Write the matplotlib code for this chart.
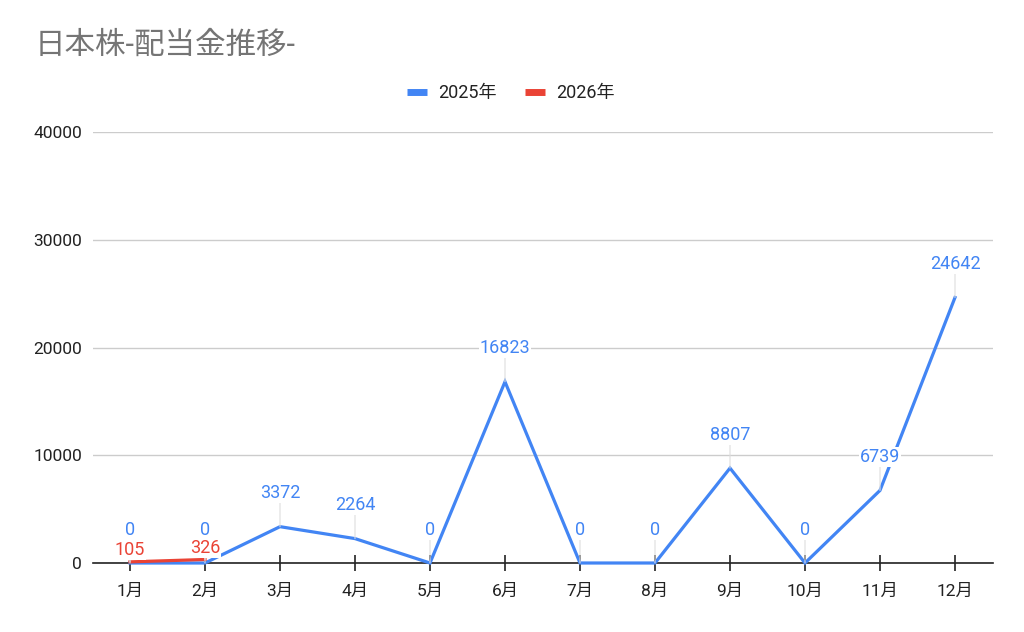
import matplotlib
matplotlib.use("Agg")
import matplotlib.pyplot as plt
from matplotlib.lines import Line2D

plt.rcParams['font.family'] = ['Roboto', 'Noto Sans CJK JP', 'DejaVu Sans']

months = ['1月', '2月', '3月', '4月', '5月', '6月', '7月', '8月', '9月', '10月', '11月', '12月']
s2025 = [0, 0, 3372, 2264, 0, 16823, 0, 0, 8807, 0, 6739, 24642]
s2026 = [105, 326]
yticks = [0, 10000, 20000, 30000, 40000]
title = '日本株-配当金推移-'
names = ['2025年', '2026年']

BLUE = '#4285F4'
RED = '#EA4335'

fig = plt.figure(figsize=(10.24, 6.32), dpi=100)
ax = fig.add_axes([92.5 / 1024, 1 - 563 / 632, 900 / 1024, 431 / 632])

x25 = list(range(1, len(s2025) + 1))
x26 = list(range(1, len(s2026) + 1))
ax.plot(x25, s2025, color=BLUE, lw=2.3, solid_joinstyle='miter', zorder=3, clip_on=False)
ax.plot(x26, s2026, color=RED, lw=2.3, zorder=4, clip_on=False)

ax.set_xlim(0.5, len(months) + 0.5)
ax.set_ylim(0, 40000)
ax.set_xticks(x25)
ax.set_xticklabels(months)
ax.set_yticks(yticks)
ax.set_yticklabels([str(v) for v in yticks])

for s in ['top', 'right', 'left']:
    ax.spines[s].set_visible(False)
ax.spines['bottom'].set_color('#222222')
ax.spines['bottom'].set_linewidth(1.2)
ax.spines['bottom'].set_zorder(2)

ax.grid(axis='y', color='#cccccc', lw=1.0, zorder=0)
ax.set_axisbelow(True)
ax.tick_params(axis='y', length=0, pad=7.5, labelsize=12.5, labelcolor='#222222')
ax.tick_params(axis='x', direction='inout', length=12, width=1.2, color='#222222',
               pad=9, labelsize=12.5, labelcolor='#222222')


def label(x, y, txt, color, off):
    ax.annotate(txt, xy=(x, y), xytext=(0, off), textcoords='offset points',
                ha='center', va='center', fontsize=13, color=color, zorder=6,
                bbox=dict(boxstyle='square,pad=0.05', fc='white', ec='none'),
                arrowprops=dict(arrowstyle='-', color='#dddddd', lw=0.8,
                                shrinkA=0, shrinkB=0), annotation_clip=False)


for x, v in zip(x25, s2025):
    label(x, v, str(v), BLUE, 24)
for x, v in zip(x26, s2026):
    label(x, v, str(v), RED, 8.5)

fig.text(35 / 1024, 1 - 45 / 632, title, fontsize=22, color='#757575', ha='left', va='center')

handles = [Line2D([], [], color=BLUE, lw=5, solid_capstyle='butt'),
           Line2D([], [], color=RED, lw=5, solid_capstyle='butt')]
fig.legend(handles, names, loc='center', bbox_to_anchor=(511 / 1024, 1 - 93 / 632),
           ncol=2, frameon=False, fontsize=13, handlelength=1.1, handletextpad=0.6,
           columnspacing=1.6, labelcolor='#222222')

fig.savefig('out.png', dpi=100)
